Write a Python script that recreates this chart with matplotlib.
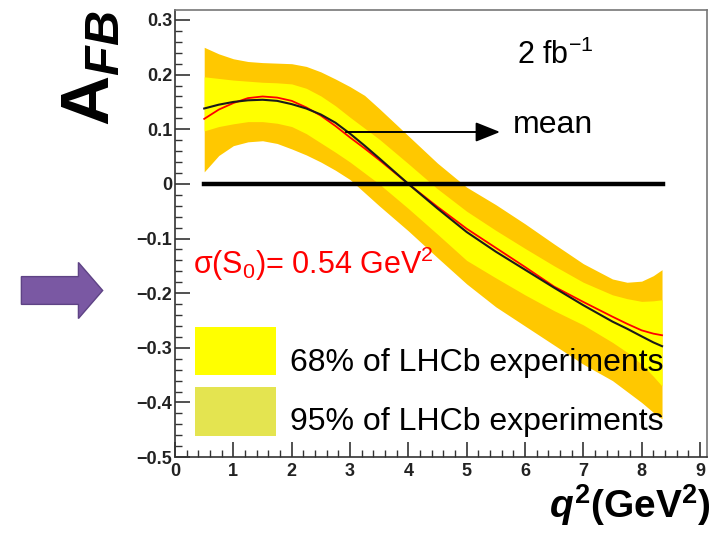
import matplotlib
matplotlib.use("Agg")
import matplotlib.pyplot as plt
from matplotlib.patches import FancyArrow, Rectangle
from matplotlib.ticker import MultipleLocator
import numpy as np

q2 = [0.5, 0.75, 1.0, 1.25, 1.5, 1.75, 2.0, 2.25, 2.5, 2.75, 3.0, 3.25, 3.5,
      4.0, 4.5, 5.0, 5.5, 6.0, 6.5, 7.0, 7.5, 7.75, 8.0, 8.2, 8.35]

# mean A_FB (black) and the input model (red)
afb_mean = [0.138, 0.145, 0.150, 0.153, 0.154, 0.152, 0.146, 0.138, 0.127, 0.112, 0.092, 0.070, 0.047,
            0.0, -0.045, -0.088, -0.124, -0.157, -0.190, -0.222, -0.252, -0.265, -0.279, -0.290, -0.297]
afb_model = [0.119, 0.136, 0.148, 0.157, 0.160, 0.158, 0.152, 0.140, 0.125, 0.106, 0.085, 0.065, 0.044,
             0.0, -0.042, -0.082, -0.117, -0.152, -0.188, -0.216, -0.243, -0.256, -0.268, -0.274, -0.277]

# 68% band
in_hi = [0.196, 0.193, 0.190, 0.188, 0.186, 0.185, 0.183, 0.175, 0.161, 0.143, 0.122, 0.102, 0.082,
         0.037, -0.009, -0.050, -0.085, -0.118, -0.150, -0.180, -0.203, -0.210, -0.215, -0.214, -0.212]
in_lo = [0.097, 0.105, 0.110, 0.114, 0.114, 0.111, 0.105, 0.092, 0.075, 0.058, 0.040, 0.020, 0.000,
         -0.045, -0.092, -0.140, -0.172, -0.203, -0.232, -0.258, -0.290, -0.308, -0.330, -0.352, -0.370]
# 95% band
out_hi = [0.250, 0.238, 0.229, 0.224, 0.222, 0.221, 0.220, 0.215, 0.205, 0.192, 0.178, 0.162, 0.138,
          0.088, 0.038, -0.006, -0.038, -0.073, -0.110, -0.146, -0.174, -0.180, -0.178, -0.168, -0.157]
out_lo = [0.022, 0.052, 0.070, 0.077, 0.079, 0.074, 0.064, 0.053, 0.040, 0.025, 0.008, -0.016, -0.040,
          -0.086, -0.135, -0.183, -0.225, -0.260, -0.295, -0.330, -0.360, -0.380, -0.400, -0.418, -0.430]

s0_text = "\u03c3(S$_0$)= 0.54 GeV$^2$"
lumi_text = r"2 fb$^{\mathregular{-1}}$"
legend_labels = ["68% of LHCb experiments", "95% of LHCb experiments"]

plt.rcParams['font.family'] = ['Liberation Sans', 'DejaVu Sans']
plt.rcParams['mathtext.fontset'] = 'custom'
plt.rcParams['mathtext.rm'] = 'Liberation Sans'
plt.rcParams['mathtext.it'] = 'Liberation Sans:italic:bold'
plt.rcParams['mathtext.bf'] = 'Liberation Sans:bold'

YELLOW = "#ffff00"
ORANGE = "#ffc800"
OLIVE = "#e4e450"

fig = plt.figure(figsize=(7.13, 5.34), dpi=100)
ax = fig.add_axes([0.2455, 0.144, 0.746, 0.837])

ax.fill_between(q2, out_lo, out_hi, color=ORANGE, lw=0, zorder=1)
ax.fill_between(q2, in_lo, in_hi, color=YELLOW, lw=0, zorder=2)
ax.plot(q2, afb_model, color="red", lw=1.3, zorder=3)
ax.plot(q2, afb_mean, color="#1a1a1a", lw=1.5, zorder=4)

# zero line
ax.plot([q2[0], q2[-1] + 0.02], [0, 0], color="black", lw=3.2, zorder=5)

# "mean" arrow
ax.annotate("", xy=(5.62, 0.095), xytext=(2.88, 0.095),
            arrowprops=dict(arrowstyle="-|>,head_length=1.5,head_width=0.6", color="black", lw=1.4),
            zorder=6)
ax.text(5.8, 0.107, "mean", fontsize=23, va="center", ha="left", zorder=7)
ax.text(5.87, 0.236, lumi_text, fontsize=22, va="center", ha="left", zorder=7)
ax.text(0.31, -0.147, s0_text, fontsize=22, color="red", va="center", ha="left", zorder=7)

# legend drawn by hand like the ROOT one
ax.add_patch(Rectangle((0.34, -0.350), 1.39, 0.089, color=YELLOW, lw=0, zorder=6))
ax.add_patch(Rectangle((0.34, -0.461), 1.39, 0.089, color=OLIVE, lw=0, zorder=6))
ax.text(1.97, -0.327, legend_labels[0], fontsize=23, va="center", ha="left", zorder=7)
ax.text(1.97, -0.436, legend_labels[1], fontsize=23, va="center", ha="left", zorder=7)

ax.set_xlim(0, 9.12)
ax.set_ylim(-0.5, 0.318)
ax.xaxis.set_major_locator(MultipleLocator(1))
ax.xaxis.set_minor_locator(MultipleLocator(0.2))
ax.yaxis.set_minor_locator(MultipleLocator(0.02))
ax.tick_params(which="both", direction="in", top=False, right=False, color="#333333")
ax.tick_params(which="major", length=11, width=1.2)
ax.tick_params(which="minor", length=5, width=1)
ax.tick_params(axis="y", pad=2)
ax.tick_params(axis="x", pad=4)
ax.set_yticks(np.arange(-0.5, 0.31, 0.1))
ax.set_yticklabels(["\u22120.5", "\u22120.4", "\u22120.3", "\u22120.2", "\u22120.1", "0", "0.1", "0.2", "0.3"])
for lab in ax.get_xticklabels() + ax.get_yticklabels():
    lab.set_fontsize(13)
    lab.set_fontweight("bold")
    lab.set_color("#222222")
for side in ["left", "bottom"]:
    ax.spines[side].set_color("#333333")
    ax.spines[side].set_linewidth(1.2)
for side in ["top", "right"]:
    ax.spines[side].set_color("#777777")
    ax.spines[side].set_linewidth(1.2)

# axis titles
fig.text(0.128, 0.872, r"A$_{FB}$", rotation=90, fontsize=50, fontweight="bold",
         ha="center", va="center")
fig.text(0.997, 0.012, r"$q^{\mathbf{2}}$(GeV$^{\mathbf{2}}$)", fontsize=28, fontweight="bold",
         ha="right", va="bottom")

# purple arrow on the left
fig.patches.append(FancyArrow(0.03, 0.456, 0.08, 0, width=0.052, head_width=0.105, head_length=0.034,
                              length_includes_head=False, transform=fig.transFigure, figure=fig,
                              facecolor="#7a58a3", edgecolor="#5e4385", lw=1))

fig.savefig("out.png", dpi=100)
